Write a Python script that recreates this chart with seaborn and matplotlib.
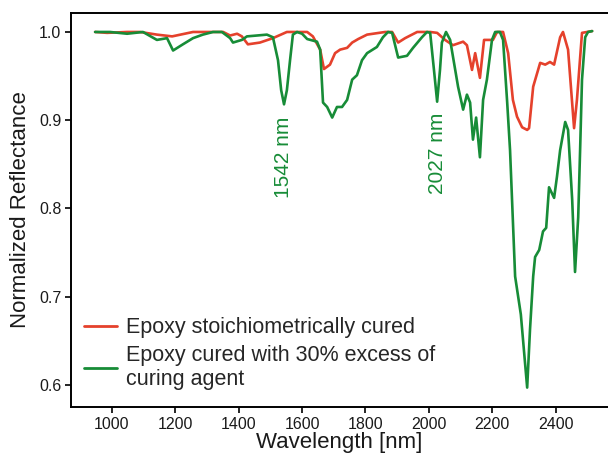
import numpy as np
import pandas as pd
import matplotlib
matplotlib.use("Agg")
import matplotlib.pyplot as plt
import seaborn as sns

# ---- data ----
red_wl = [947, 985, 1048, 1089, 1142, 1190, 1256, 1319, 1351, 1373, 1395, 1410, 1429, 1467,
          1508, 1552, 1616, 1634, 1657, 1669, 1688, 1704, 1720, 1742, 1758, 1777, 1805, 1862,
          1884, 1903, 1925, 1963, 2004, 2026, 2051, 2076, 2108, 2120, 2136, 2146, 2161, 2174,
          2193, 2202, 2215, 2234, 2250, 2265, 2278, 2294, 2310, 2316, 2329, 2351, 2367, 2382,
          2395, 2414, 2423, 2439, 2458, 2467, 2483, 2499, 2515]
red_r = [1.000, 0.999, 1.000, 1.000, 0.997, 0.995, 1.000, 1.000, 1.000, 0.996, 0.998, 0.995,
         0.986, 0.988, 0.993, 1.000, 1.000, 0.995, 0.980, 0.958, 0.963, 0.976, 0.980, 0.982,
         0.988, 0.992, 0.997, 1.000, 1.000, 0.988, 0.993, 1.000, 1.000, 0.999, 0.991, 0.985,
         0.989, 0.985, 0.957, 0.976, 0.948, 0.991, 0.991, 0.991, 1.000, 1.000, 0.976, 0.923,
         0.904, 0.892, 0.889, 0.891, 0.938, 0.965, 0.963, 0.966, 0.963, 0.994, 1.000, 0.980,
         0.891, 0.923, 0.999, 1.000, 1.001]

green_wl = [947, 994, 1048, 1098, 1142, 1174, 1193, 1224, 1256, 1287, 1319, 1347, 1373, 1382,
            1410, 1426, 1458, 1489, 1508, 1524, 1534, 1543, 1552, 1562, 1571, 1584, 1600, 1616,
            1647, 1657, 1666, 1679, 1695, 1710, 1726, 1742, 1758, 1773, 1789, 1805, 1836, 1855,
            1871, 1884, 1903, 1931, 1950, 1978, 1994, 2004, 2016, 2026, 2035, 2041, 2054, 2067,
            2092, 2108, 2120, 2130, 2139, 2149, 2161, 2171, 2183, 2199, 2209, 2224, 2234, 2247,
            2256, 2272, 2290, 2310, 2319, 2329, 2335, 2348, 2360, 2370, 2379, 2395, 2404, 2414,
            2430, 2439, 2452, 2461, 2471, 2477, 2483, 2493, 2502, 2515]
green_r = [1.000, 1.000, 0.998, 1.000, 0.991, 0.993, 0.979, 0.986, 0.993, 0.997, 1.000, 1.000,
           0.993, 0.988, 0.991, 0.995, 0.996, 0.997, 0.994, 0.968, 0.934, 0.918, 0.934, 0.968,
           0.997, 1.000, 0.998, 0.992, 0.989, 0.980, 0.920, 0.915, 0.903, 0.915, 0.915, 0.923,
           0.946, 0.951, 0.968, 0.976, 0.983, 0.994, 1.000, 0.999, 0.971, 0.973, 0.982, 0.994,
           1.000, 0.999, 0.957, 0.921, 0.957, 0.988, 1.000, 0.991, 0.938, 0.912, 0.929, 0.920,
           0.878, 0.903, 0.858, 0.923, 0.946, 0.991, 1.000, 1.000, 0.991, 0.920, 0.866, 0.723,
           0.680, 0.597, 0.663, 0.723, 0.745, 0.753, 0.774, 0.778, 0.824, 0.812, 0.836, 0.866,
           0.898, 0.889, 0.810, 0.728, 0.790, 0.866, 0.946, 0.994, 1.000, 1.001]

red_label = "Epoxy stoichiometrically cured"
green_label = "Epoxy cured with 30% excess of\ncuring agent"
peak_labels = ["1542 nm", "2027 nm"]
peak_wl = [1542, 2027]
x_ticks = [1000, 1200, 1400, 1600, 1800, 2000, 2200, 2400]
y_ticks = [0.6, 0.7, 0.8, 0.9, 1.0]

RED = "#e5412c"
GREEN = "#178c37"

sns.set_style("ticks")
plt.rcParams["font.family"] = ["Liberation Sans", "DejaVu Sans"]

df = pd.concat([
    pd.DataFrame({"wl": red_wl, "R": red_r, "sample": red_label}),
    pd.DataFrame({"wl": green_wl, "R": green_r, "sample": green_label}),
], ignore_index=True)

fig = plt.figure(figsize=(6.08, 4.55), dpi=100)
ax = fig.add_axes([71 / 608, 1 - 407 / 455, 1 - 71 / 608, (407 - 13) / 455])

sns.lineplot(data=df, x="wl", y="R", hue="sample",
             palette={red_label: RED, green_label: GREEN},
             estimator=None, sort=False, linewidth=1.9, ax=ax)

ax.set_xlim(871, 2565)
ax.set_ylim(0.575, 1.0215)
ax.set_xticks(x_ticks)
ax.set_yticks(y_ticks)
ax.set_yticklabels([f"{v:.1f}" for v in y_ticks])
ax.tick_params(axis="both", labelsize=11.5, length=4, width=1.2, color="black",
               labelcolor="#1a1a1a", pad=3)
ax.spines["right"].set_visible(False)
for s in ["left", "bottom", "top"]:
    ax.spines[s].set_linewidth(1.4)
    ax.spines[s].set_color("black")

ax.set_xlabel("Wavelength [nm]", fontsize=16, color="#1a1a1a", labelpad=0)
ax.set_ylabel("Normalized Reflectance", fontsize=16, color="#1a1a1a", labelpad=6)

for lab, w, top in zip(peak_labels, peak_wl, [0.904, 0.909]):
    ax.text(w, top, lab, rotation=90, ha="center", va="top",
            fontsize=15, color=GREEN)

leg = ax.legend(loc="upper left", bbox_to_anchor=(0.024, 0.228), frameon=False,
                fontsize=15.5, handlelength=1.55, handletextpad=0.4,
                borderpad=0, labelspacing=0.3, borderaxespad=0)
for line in leg.get_lines():
    line.set_linewidth(2.0)

fig.savefig("out.png", dpi=100)
